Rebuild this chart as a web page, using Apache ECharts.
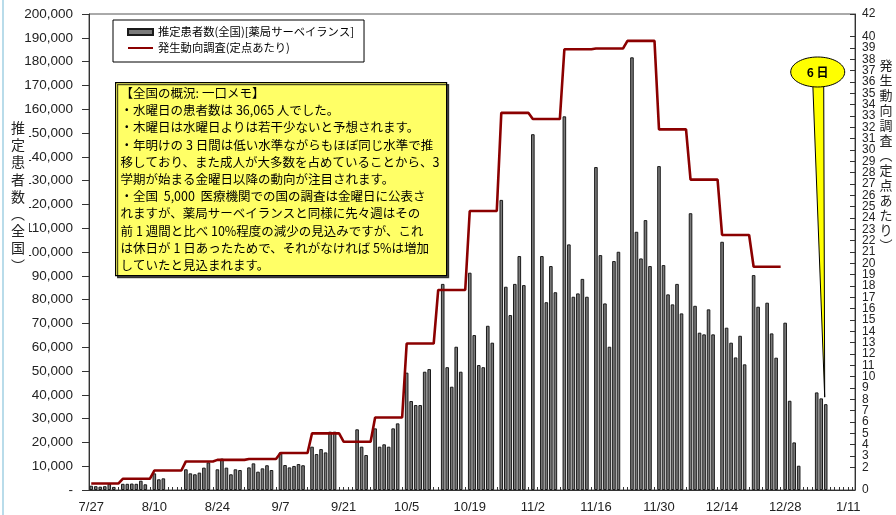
<!DOCTYPE html>
<html>
<head>
<meta charset="utf-8">
<script src="https://cdn.jsdelivr.net/npm/echarts@6/dist/echarts.min.js"></script>
<style>
  html, body { margin: 0; padding: 0; background: #fff; }
  #chart { width: 896px; height: 515px; }
</style>
</head>
<body>
<div id="chart"></div>
<script>
// Daily estimated patients (pharmacy surveillance), Mon..Sun per row, from 2009-07-27.
// null = no report (Sundays, holidays, days not yet reported).
const patientsWeek01 = [1800, 1600, 1400, 1600, 2600, 1300, null];
const patientsWeek02 = [2600, 2600, 2700, 2600, 3900, 2400, null];
const patientsWeek03 = [7000, 4500, 4900, null, null, null, null];
const patientsWeek04 = [8700, 7000, 6600, 7300, 9400, 11600, null];
const patientsWeek05 = [8700, 13200, 9400, 6600, 8700, 8400, null];
const patientsWeek06 = [9500, 11200, 7700, 9100, 10400, 8400, null];
const patientsWeek07 = [15800, 10500, 9500, 10100, 10900, 10400, null];
const patientsWeek08 = [18200, 15100, 17200, 15800, 24500, 24500, null];
const patientsWeek09 = [null, null, null, 25500, 18200, 14700, null];
const patientsWeek10 = [25900, 18200, 19200, 18200, 25900, 28000, null];
const patientsWeek11 = [49300, 37400, 35700, 35700, 49700, 50800, null];
const patientsWeek12 = [null, 86600, 51600, 43400, 60200, 49700, null];
const patientsWeek13 = [91300, 65100, 52500, 51600, 69000, 61900, null];
const patientsWeek14 = [121900, 85400, 73500, 86600, 98300, 86100, null];
const patientsWeek15 = [149500, null, 98300, 78900, 94100, 83100, null];
const patientsWeek16 = [157000, 103200, 81200, 82600, 88700, 81200, null];
const patientsWeek17 = [135700, 98700, 78400, 60200, 96200, 100100, null];
const patientsWeek18 = [null, 181800, 108500, 97300, 113400, 94100, null];
const patientsWeek19 = [136100, 94500, 82200, 78000, 86600, 74200, null];
const patientsWeek20 = [116300, 77400, 66100, 65400, 75900, 65400, null];
const patientsWeek21 = [104300, 68200, 61900, 55700, 64800, 52800, null];
const patientsWeek22 = [90300, 77000, null, 78700, 65800, 55600, null];
const patientsWeek23 = [70300, 37500, 20000, 10200, null, null, null];
const patientsWeek24 = [41000, 38500, 36065, null, null, null, null];
const patientsTail = [null, null];

// Weekly sentinel reports per site (発生動向調査), one value per week from 7/27.
const sentinelWeekly = [0.57, 0.99, 1.72, 2.52, 2.66, 2.74, 3.26, 5.0, 4.26, 6.4,
  12.92, 17.65, 24.62, 33.28, 32.73, 38.89, 38.95, 39.63, 31.82, 27.39, 22.5, 19.7];

// Axis setup
const dayCount = 170;
const leftTicks = { min: 0, max: 200000, interval: 10000 };
const rightTicks = { min: 0, max: 42, interval: 1 };
const labelEvery = 14;

const barName = '推定患者数(全国)[薬局サーベイランス]';
const lineName = '発生動向調査(定点あたり)';
const memoLines = [
  '【全国の概況: 一口メモ】',
  '・水曜日の患者数は 36,065 人でした。',
  '・木曜日は水曜日よりは若干少ないと予想されます。',
  '・年明けの 3 日間は低い水準ながらもほぼ同じ水準で推',
  '移しており、また成人が大多数を占めていることから、3',
  '学期が始まる金曜日以降の動向が注目されます。',
  '・全国  5,000  医療機関での国の調査は金曜日に公表さ',
  'れますが、薬局サーベイランスと同様に先々週はその',
  '前 1 週間と比べ 10%程度の減少の見込みですが、これ',
  'は休日が 1 日あったためで、それがなければ 5%は増加',
  'していたと見込まれます。'
];

const JP = '"Noto Sans CJK JP", "Noto Sans CJK SC", sans-serif';
const NUM = '"Liberation Sans", Arial, sans-serif';

// Build the daily category labels and series arrays
const dayLabels = [];
for (let d = 0; d < dayCount; d++) {
  const t = new Date(2009, 6, 27 + d);
  dayLabels.push((t.getMonth() + 1) + '/' + t.getDate());
}
const patients = [].concat(
  patientsWeek01, patientsWeek02, patientsWeek03, patientsWeek04, patientsWeek05,
  patientsWeek06, patientsWeek07, patientsWeek08, patientsWeek09, patientsWeek10,
  patientsWeek11, patientsWeek12, patientsWeek13, patientsWeek14, patientsWeek15,
  patientsWeek16, patientsWeek17, patientsWeek18, patientsWeek19, patientsWeek20,
  patientsWeek21, patientsWeek22, patientsWeek23, patientsWeek24, patientsTail);
// each weekly value holds for all seven days of its week
const sentinelDaily = dayLabels.map((_, d) => {
  const w = Math.floor(d / 7);
  return w < sentinelWeekly.length ? sentinelWeekly[w] : null;
});

const chart = echarts.init(document.getElementById('chart'), null, { renderer: 'canvas' });

chart.setOption({
  animation: false,
  backgroundColor: '#fff',
  grid: { left: 89, right: 41, top: 14, bottom: 25, show: true, borderColor: '#555', borderWidth: 1 },
  legend: {
    orient: 'vertical', left: 113, top: 20,
    padding: [5, 10, 7, 14], itemGap: 2, itemWidth: 25, itemHeight: 6,
    backgroundColor: '#fff', borderColor: '#000', borderWidth: 1,
    textStyle: { fontFamily: JP, fontSize: 11.3, lineHeight: 14, color: '#000' },
    data: [
      { name: barName, icon: 'rect' },
      { name: lineName, itemStyle: { color: 'rgba(0,0,0,0)', borderWidth: 0, opacity: 0 } }
    ]
  },
  xAxis: {
    type: 'category', data: dayLabels, boundaryGap: true,
    axisLine: { lineStyle: { color: '#333', width: 1 } },
    axisTick: { show: true, inside: true, length: 3, alignWithLabel: true, interval: 0,
      lineStyle: { color: '#333' } },
    axisLabel: { interval: (i) => i % labelEvery === 0, margin: 11, fontFamily: NUM,
      fontSize: 13, color: '#222' },
    splitLine: { show: false }
  },
  yAxis: [{
    type: 'value', position: 'left', min: leftTicks.min, max: leftTicks.max, interval: leftTicks.interval,
    axisLine: { show: true, lineStyle: { color: '#333' } },
    axisTick: { show: true, length: 7, lineStyle: { color: '#333' } },
    axisLabel: { margin: 16, fontFamily: NUM, fontSize: 13.5, color: '#222',
      showMinLabel: true, showMaxLabel: true, hideOverlap: false,
      formatter: (v) => v === 0 ? '-' : v.toLocaleString('en-US') },
    splitLine: { show: false }
  }, {
    type: 'value', position: 'right', min: rightTicks.min, max: rightTicks.max, interval: rightTicks.interval,
    axisLine: { show: true, lineStyle: { color: '#333' } },
    axisTick: { show: true, inside: true, length: 5, lineStyle: { color: '#333' } },
    axisLabel: { margin: 7, fontFamily: NUM, fontSize: 12, color: '#222',
      showMinLabel: true, showMaxLabel: true, hideOverlap: false },
    splitLine: { show: false }
  }],
  series: [{
    type: 'bar', name: barName, yAxisIndex: 0, data: patients, barWidth: 3.6,
    itemStyle: { color: '#7a7a7a', borderColor: '#1a1a1a', borderWidth: 1 }
  }, {
    type: 'line', name: lineName, yAxisIndex: 1, data: sentinelDaily, symbol: 'none',
    lineStyle: { color: '#8b0000', width: 2.6 }, itemStyle: { color: '#8b0000' }, z: 3
  }]
});

// Callout pointing at the latest reported day
const lastIdx = patients.reduce((acc, v, i) => (v != null ? i : acc), 0);
const tip = chart.convertToPixel({ seriesIndex: 0 }, [lastIdx, patients[lastIdx]]);
const cx = tip[0] - 8, cy = 72;

chart.setOption({
  graphic: [
    { type: 'rect', z: 100, shape: { x: 2, y: 0, width: 2, height: 515 }, style: { fill: '#b9dcea' } },
    {
      type: 'group', left: 115, top: 82, z: 100,
      children: [
        { type: 'rect', shape: { x: 0, y: 0, width: 331, height: 193 },
          style: { fill: '#ffff66', stroke: '#000', lineWidth: 1.2,
            shadowColor: 'rgba(0,0,0,0.7)', shadowOffsetX: 2, shadowOffsetY: 2, shadowBlur: 0 } },
        { type: 'text', x: 5, y: 2,
          style: { text: memoLines.join('\n'), fontFamily: JP, fontSize: 12.5, lineHeight: 17.2, fill: '#000' } }
      ]
    },
    { type: 'text', z: 100, x: 19, y: 119,
      style: { text: '推\n定\n患\n者\n数\n︵\n全\n国\n︶', fontFamily: JP, fontSize: 14, lineHeight: 17.2,
        fill: '#222', align: 'center', verticalAlign: 'top', backgroundColor: '#fff', padding: [0, 4, 0, 2] } },
    { type: 'text', z: 100, x: 886, y: 58,
      style: { text: '発\n生\n動\n向\n調\n査\n︵\n定\n点\nあ\nた\nり\n︶', fontFamily: JP, fontSize: 13,
        lineHeight: 15, fill: '#222', align: 'center', verticalAlign: 'top' } },
    { type: 'polygon', z: 101,
      shape: { points: [[tip[0] - 13, cy + 10], [tip[0] - 2, cy + 10], [tip[0] - 1, tip[1] - 7]] },
      style: { fill: '#ffff00', stroke: '#000', lineWidth: 1 } },
    { type: 'ellipse', z: 102, shape: { cx: cx, cy: cy, rx: 27, ry: 15 },
      style: { fill: '#ffff00', stroke: '#000', lineWidth: 1 } },
    { type: 'text', z: 103, x: cx, y: cy,
      style: { text: '6 日', fontFamily: JP, fontSize: 12, fontWeight: 'bold', fill: '#000',
        align: 'center', verticalAlign: 'middle' } }
  ]
});
</script>
</body>
</html>
